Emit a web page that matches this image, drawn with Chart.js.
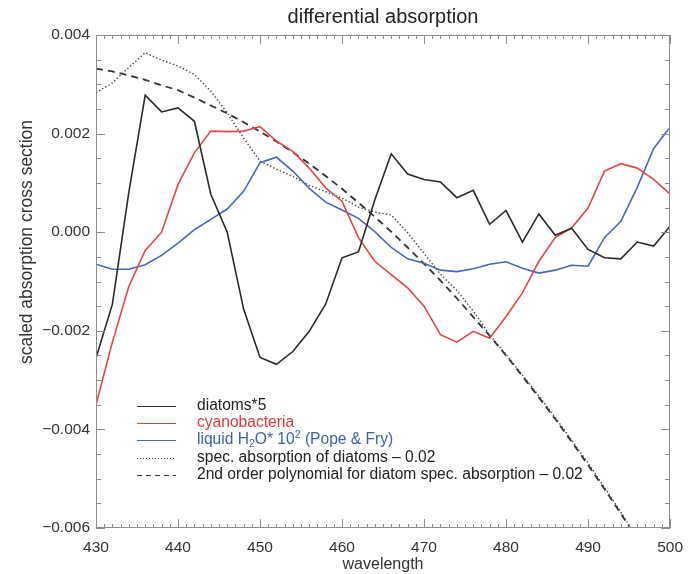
<!DOCTYPE html>
<html>
<head>
<meta charset="utf-8">
<title>differential absorption</title>
<script src="https://cdn.jsdelivr.net/npm/chart.js@4/dist/chart.umd.min.js"></script>
<style>
  html, body { margin: 0; padding: 0; background: #ffffff; }
  #wrap { width: 693px; height: 574px; }
</style>
</head>
<body>
<div id="wrap"><canvas id="chart" width="693" height="574"></canvas></div>
<script>
// Wavelength grid (nm), sampled every 2 nm
const wavelengths = [430,432,434,436,438,440,442,444,446,448,450,452,454,456,458,460,462,464,
                     466,468,470,472,474,476,478,480,482,484,486,488,490,492,494,496,498,500];

// Differential cross sections (scaled)
const diatoms5 = [-0.00255,-0.00146,0.00081,0.00278,0.00244,0.00252,0.00225,0.00077,0.00000,-0.00156,
                  -0.00254,-0.00268,-0.00242,-0.00201,-0.00146,-0.00052,-0.00040,0.00066,0.00159,0.00118,
                  0.00107,0.00102,0.00070,0.00085,0.00016,0.00044,-0.00020,0.00037,-0.00006,0.00008,
                  -0.00035,-0.00052,-0.00054,-0.00020,-0.00028,0.00012];

const cyanobacteria = [-0.00350,-0.00223,-0.00110,-0.00037,0.00000,0.00097,0.00161,0.00205,0.00204,0.00205,
                       0.00214,0.00185,0.00164,0.00130,0.00090,0.00063,-0.00011,-0.00059,-0.00086,-0.00113,
                       -0.00150,-0.00208,-0.00223,-0.00201,-0.00215,-0.00171,-0.00123,-0.00059,-0.00011,0.00009,
                       0.00049,0.00124,0.00139,0.00130,0.00107,0.00077];

const liquidWater = [-0.00065,-0.00075,-0.00075,-0.00066,-0.00047,-0.00022,0.00005,0.00026,0.00047,0.00083,
                     0.00141,0.00152,0.00124,0.00089,0.00061,0.00045,0.00028,0.00001,-0.00031,-0.00054,
                     -0.00063,-0.00077,-0.00080,-0.00074,-0.00065,-0.00060,-0.00073,-0.00083,-0.00077,-0.00067,
                     -0.00069,-0.00011,0.00022,0.00091,0.00170,0.00213];

const diatomSpec = [0.00283,0.00303,0.00334,0.00364,0.00349,0.00337,0.00320,0.00286,0.00242,0.00191,
                    0.00144,0.00128,0.00113,0.00095,0.00082,0.00069,0.00051,0.00041,0.00035,-0.00001,
                    -0.00043,-0.00085,-0.00118,-0.00160,-0.00208,-0.00248,-0.00290,-0.00332,-0.00376,-0.00422,
                    -0.00468,-0.00518,-0.00568,-0.00620,-0.00672,-0.00725];

const diatomPoly = [0.00332,0.00326,0.00318,0.00309,0.00298,0.00288,0.00273,0.00257,0.00241,0.00223,
                    0.00204,0.00184,0.00162,0.00139,0.00114,0.00088,0.00060,0.00031,0.00001,-0.00031,
                    -0.00064,-0.00098,-0.00134,-0.00172,-0.00210,-0.00250,-0.00292,-0.00335,-0.00379,-0.00425,
                    -0.00472,-0.00521,-0.00571,-0.00622,-0.00675,-0.00730];

// Axis ticks
const xTicks = [430,440,450,460,470,480,490,500];
const yTicks = [-0.006,-0.004,-0.002,0.000,0.002,0.004];

const FONT = "'Liberation Sans', Arial, Helvetica, sans-serif";
const AXIS_GREY = '#8c8c8c';

function pts(values) {
  return wavelengths.map((w, i) => ({ x: w, y: values[i] }));
}

// Legend entries: dataset index, text colour and text pieces (some raised or lowered)
const legendRows = [
  { ds: 0, color: '#222222', parts: [{ t: 'diatoms*5' }] },
  { ds: 1, color: '#d63c3c', parts: [{ t: 'cyanobacteria' }] },
  { ds: 2, color: '#3f5fa8', parts: [{ t: 'liquid H' }, { t: '2', sub: true }, { t: 'O* 10' }, { t: '2', sup: true }, { t: ' (Pope & Fry)' }] },
  { ds: 3, color: '#222222', parts: [{ t: 'spec. absorption of diatoms \u2013 0.02' }] },
  { ds: 4, color: '#222222', parts: [{ t: '2nd order polynomial for diatom spec. absorption \u2013 0.02' }] }
];

// Box frame with inward major/minor ticks on all four sides, plus titles and legend
const framePlugin = {
  id: 'frame',
  afterDraw(chart) {
    const { ctx, chartArea: a, scales: { x, y } } = chart;
    ctx.save();
    ctx.strokeStyle = AXIS_GREY;
    ctx.lineWidth = 1;
    ctx.beginPath();
    ctx.rect(Math.round(a.left) + 0.5, Math.round(a.top) + 0.5,
             Math.round(a.right - a.left) - 1, Math.round(a.bottom - a.top) - 1);
    ctx.stroke();

    ctx.beginPath();
    // x ticks: major each 10 nm, minor each 1 nm
    for (let w = 430; w <= 500; w += 1) {
      const px = Math.round(x.getPixelForValue(w)) + 0.5;
      const len = (w % 10 === 0) ? 9 : 4;
      ctx.moveTo(px, a.bottom); ctx.lineTo(px, a.bottom - len);
      ctx.moveTo(px, a.top); ctx.lineTo(px, a.top + len);
    }
    // y ticks: major each 0.002, minor each 0.0005
    for (let k = -12; k <= 8; k++) {
      const v = k * 0.0005;
      const py = Math.round(y.getPixelForValue(v)) + 0.5;
      const len = (k % 4 === 0) ? 9 : 5;
      ctx.moveTo(a.left, py); ctx.lineTo(a.left + len, py);
      ctx.moveTo(a.right, py); ctx.lineTo(a.right - len, py);
    }
    ctx.stroke();

    // chart title
    ctx.fillStyle = '#222222';
    ctx.font = '20px ' + FONT;
    ctx.textAlign = 'center';
    ctx.textBaseline = 'middle';
    ctx.fillText('differential absorption', (a.left + a.right) / 2, 17);

    // y axis title
    ctx.save();
    ctx.translate(27, 242);
    ctx.rotate(-Math.PI / 2);
    ctx.fillStyle = '#333333';
    ctx.font = '17.5px ' + FONT;
    ctx.fillText('scaled absorption cross section', 0, 0);
    ctx.restore();

    // legend
    const lx0 = 137, lx1 = 176, tx = 197;
    const rowY = [406, 423, 440, 457.5, 474.5];
    legendRows.forEach((row, i) => {
      const ds = chart.data.datasets[row.ds];
      const yy = rowY[i];
      ctx.strokeStyle = ds.borderColor;
      ctx.lineWidth = 1;
      ctx.setLineDash(ds.legendDash || []);
      ctx.beginPath();
      ctx.moveTo(lx0, Math.round(yy) + 0.5);
      ctx.lineTo(lx1, Math.round(yy) + 0.5);
      ctx.stroke();
      ctx.setLineDash([]);

      ctx.fillStyle = row.color;
      ctx.textAlign = 'left';
      ctx.textBaseline = 'middle';
      let cx = tx;
      row.parts.forEach(p => {
        if (p.sub || p.sup) {
          ctx.font = '10.5px ' + FONT;
          ctx.fillText(p.t, cx, yy + (p.sub ? 4 : -5));
        } else {
          ctx.font = '15.6px ' + FONT;
          ctx.fillText(p.t, cx, yy);
        }
        cx += ctx.measureText(p.t).width;
      });
    });
    ctx.restore();
  }
};

Chart.defaults.font.family = FONT;
Chart.defaults.color = '#333333';

new Chart(document.getElementById('chart'), {
  type: 'line',
  data: {
    datasets: [
      { label: 'diatoms*5', data: pts(diatoms5), borderColor: '#2a2a2a', borderWidth: 1.6 },
      { label: 'cyanobacteria', data: pts(cyanobacteria), borderColor: '#e04848', borderWidth: 1.6 },
      { label: 'liquid H2O* 10^2 (Pope & Fry)', data: pts(liquidWater), borderColor: '#4a68b4', borderWidth: 1.6 },
      { label: 'spec. absorption of diatoms - 0.02', data: pts(diatomSpec), borderColor: '#444444',
        borderWidth: 1.4, borderDash: [1.4, 2.2], legendDash: [1, 2] },
      { label: '2nd order polynomial for diatom spec. absorption - 0.02', data: pts(diatomPoly),
        borderColor: '#333333', borderWidth: 1.8, borderDash: [7, 5], legendDash: [5, 4] }
    ]
  },
  options: {
    responsive: false,
    animation: false,
    devicePixelRatio: 1,
    layout: { padding: { top: 35, right: 8, left: 0, bottom: 0 } },
    elements: { point: { radius: 0 }, line: { tension: 0, fill: false } },
    plugins: { legend: { display: false }, title: { display: false }, tooltip: { enabled: false } },
    scales: {
      x: {
        type: 'linear',
        min: 430, max: 500,
        afterBuildTicks(scale) { scale.ticks = xTicks.map(v => ({ value: v })); },
        afterFit(scale) { scale.height = 46; },
        grid: { display: false, drawTicks: false },
        border: { display: false },
        ticks: { font: { size: 15.5 }, color: '#333333', padding: 10, maxRotation: 0, autoSkip: false },
        title: { display: true, text: 'wavelength', font: { size: 16 }, color: '#333333', padding: { top: 0, bottom: 0 } }
      },
      y: {
        type: 'linear',
        min: -0.006, max: 0.004,
        afterBuildTicks(scale) { scale.ticks = yTicks.map(v => ({ value: v })); },
        afterFit(scale) { scale.width = 96; },
        grid: { display: false, drawTicks: false },
        border: { display: false },
        ticks: {
          font: { size: 15.5 }, color: '#333333', padding: 6,
          callback(v) {
            const s = Math.abs(v).toFixed(3);
            return (v < -1e-9 ? '\u2212' : '') + s;
          }
        },
        title: { display: false }
      }
    }
  },
  plugins: [framePlugin]
});
</script>
</body>
</html>
